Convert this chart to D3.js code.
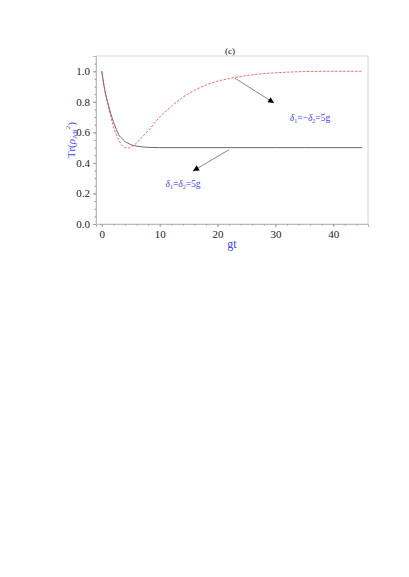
<!DOCTYPE html>
<html><head><meta charset="utf-8">
<script src="https://cdn.jsdelivr.net/npm/d3@7"></script>
<style>body{margin:0;background:#fff} text{font-family:"Liberation Serif","DejaVu Serif",serif}</style></head>
<body><script>
var gt = [0, 0.5, 1, 1.5, 2, 2.5, 3, 3.5, 4, 4.5, 5, 6, 7, 8, 10, 12, 14, 16, 18, 20, 22, 25, 28, 30, 35, 40, 45];
var redVals = [1, 0.88, 0.79, 0.71, 0.64, 0.585, 0.545, 0.515, 0.5, 0.497, 0.503, 0.53, 0.57, 0.61, 0.7, 0.77, 0.83, 0.875, 0.91, 0.935, 0.952, 0.972, 0.985, 0.99, 0.998, 1, 1];
var blackVals = [1, 0.88, 0.8, 0.73, 0.67, 0.62, 0.58, 0.56, 0.54, 0.53, 0.52, 0.51, 0.505, 0.502, 0.5, 0.5, 0.5, 0.5, 0.5, 0.5, 0.5, 0.5, 0.5, 0.5, 0.5, 0.5, 0.5];
var xTicks = [0, 10, 20, 30, 40];
var yTicks = [0, 0.2, 0.4, 0.6, 0.8, 1.0];
var serif = "'Liberation Serif','DejaVu Serif',serif";

var svg = d3.select("body").append("svg").attr("width", 409).attr("height", 577);
var x = d3.scaleLinear().domain([-1, 46]).range([96, 368]);
var y = d3.scaleLinear().domain([0, 1.1]).range([224, 56]);

svg.append("rect").attr("x", 96).attr("y", 56).attr("width", 272).attr("height", 168)
  .attr("fill", "none").attr("stroke", "#bbb").attr("stroke-width", 0.6);

svg.append("g").attr("transform", "translate(0,224)")
  .call(d3.axisBottom(x).tickValues(xTicks).tickSize(3).tickFormat(d3.format("d")));
svg.append("g").attr("transform", "translate(96,0)")
  .call(d3.axisLeft(y).tickValues(yTicks).tickSize(3).tickFormat(d3.format(".1f")));
// minor ticks
svg.append("g").attr("transform", "translate(0,224)")
  .call(d3.axisBottom(x).tickValues(d3.range(0, 46, 2)).tickSize(1.5).tickFormat(""));
svg.append("g").attr("transform", "translate(96,0)")
  .call(d3.axisLeft(y).tickValues(d3.range(0, 1.1, 0.05)).tickSize(1.5).tickFormat(""));
svg.selectAll("g").attr("font-family", serif);
svg.selectAll(".domain").attr("stroke", "#bbb");
svg.selectAll(".tick line").attr("stroke", "#999");
svg.selectAll(".tick text").attr("font-size", 11).attr("fill", "#222");

var line = d3.line().x(function(d){ return x(d[0]); }).y(function(d){ return y(d[1]); }).curve(d3.curveMonotoneX);
svg.append("path").datum(d3.zip(gt, blackVals)).attr("d", line)
  .attr("fill", "none").attr("stroke", "#444").attr("stroke-width", 0.8);
svg.append("path").datum(d3.zip(gt, redVals)).attr("d", line)
  .attr("fill", "none").attr("stroke", "#f44").attr("stroke-width", 0.8).attr("stroke-dasharray", "2.5,1.5");

svg.append("defs").append("marker").attr("id", "ah").attr("viewBox", "0 0 10 10")
  .attr("refX", 10).attr("refY", 5).attr("markerWidth", 8).attr("markerHeight", 6)
  .attr("markerUnits", "userSpaceOnUse").attr("orient", "auto")
  .append("path").attr("d", "M0,0L10,5L0,10z").attr("fill", "#000");
svg.append("line").attr("x1", x(22)).attr("y1", y(0.5) + 2).attr("x2", 193).attr("y2", 171)
  .attr("stroke", "#333").attr("stroke-width", 0.6).attr("marker-end", "url(#ah)");
svg.append("line").attr("x1", x(23)).attr("y1", y(0.955)).attr("x2", 274).attr("y2", 103)
  .attr("stroke", "#333").attr("stroke-width", 0.6).attr("marker-end", "url(#ah)");

var blue = "#4444ee";
function lbl(xp, yp, neg) {
  var t = svg.append("text").attr("x", xp).attr("y", yp).attr("font-family", serif)
    .attr("font-size", 9.5).attr("fill", blue).attr("text-anchor", "middle");
  t.append("tspan").attr("font-style", "italic").text("δ");
  t.append("tspan").attr("font-size", 6).attr("dy", 2).text("1");
  t.append("tspan").attr("dy", -2).text(neg ? "=−" : "=");
  t.append("tspan").attr("font-style", "italic").text("δ");
  t.append("tspan").attr("font-size", 6).attr("dy", 2).text("2");
  t.append("tspan").attr("dy", -2).text("=5g");
}
lbl(183, 187, false);
lbl(310, 121, true);

svg.append("text").attr("x", 230).attr("y", 54).attr("text-anchor", "middle")
  .attr("font-family", serif).attr("font-size", 9).text("(c)");
svg.append("text").attr("x", 232).attr("y", 248).attr("text-anchor", "middle")
  .attr("font-family", serif).attr("font-size", 12).attr("fill", blue).text("gt");
var yl = svg.append("text").attr("transform", "translate(75,140) rotate(-90)").attr("text-anchor", "middle")
  .attr("font-family", serif).attr("font-size", 11).attr("fill", blue);
yl.append("tspan").text("Tr(");
yl.append("tspan").attr("font-style", "italic").text("ρ");
yl.append("tspan").attr("font-size", 7).attr("dy", 2).text("AB");
yl.append("tspan").attr("font-size", 7).attr("dy", -7).text("2");
yl.append("tspan").attr("dy", 5).text(")");
</script></body></html>
